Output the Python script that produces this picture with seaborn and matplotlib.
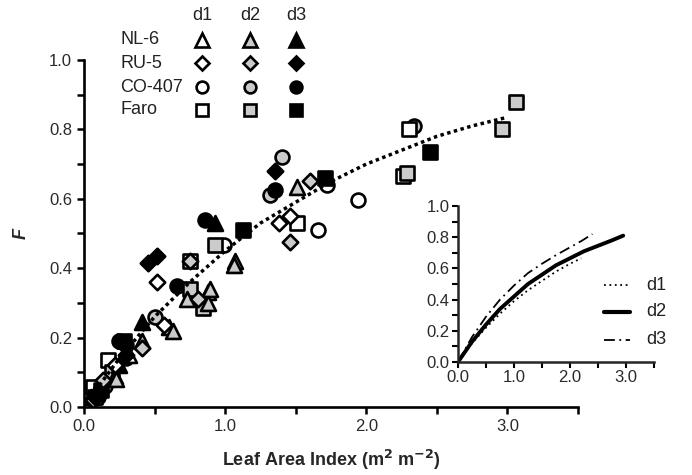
import matplotlib
matplotlib.use("Agg")
import matplotlib.pyplot as plt
import seaborn as sns
import numpy as np
import pandas as pd
from matplotlib.lines import Line2D
from matplotlib.ticker import MultipleLocator, FormatStrFormatter

sns.set_style("ticks")
plt.rcParams['font.family'] = ['Liberation Sans', 'DejaVu Sans']

# ---------------- data ----------------
genotypes = ["NL-6", "RU-5", "CO-407", "Faro"]
dates = ["d1", "d2", "d3"]

# NL-6 (triangles)
nl6_d1_x = [0.05, 0.22, 0.32, 0.60, 0.88, 1.07]
nl6_d1_y = [0.03, 0.09, 0.15, 0.23, 0.33, 0.42]
nl6_d2_x = [0.08, 0.23, 0.41, 0.63, 0.73, 0.88, 0.89, 1.06, 1.51]
nl6_d2_y = [0.04, 0.08, 0.19, 0.22, 0.31, 0.30, 0.34, 0.41, 0.635]
nl6_d3_x = [0.10, 0.25, 0.41, 0.93]
nl6_d3_y = [0.05, 0.12, 0.245, 0.53]

# RU-5 (diamonds)
ru5_d1_x = [0.05, 0.22, 0.52, 0.57, 1.38, 1.46]
ru5_d1_y = [0.02, 0.12, 0.36, 0.235, 0.53, 0.55]
ru5_d2_x = [0.065, 0.135, 0.41, 0.75, 0.81, 1.46, 1.60]
ru5_d2_y = [0.02, 0.078, 0.17, 0.42, 0.31, 0.475, 0.65]
ru5_d3_x = [0.08, 0.30, 0.45, 0.52, 1.35]
ru5_d3_y = [0.03, 0.15, 0.415, 0.435, 0.68]

# CO-407 (circles)
co_d1_x = [0.10, 0.30, 0.99, 1.66, 1.72, 1.94]
co_d1_y = [0.04, 0.14, 0.467, 0.51, 0.64, 0.597]
co_d2_x = [0.15, 0.50, 1.32, 1.40, 2.34]
co_d2_y = [0.06, 0.26, 0.61, 0.72, 0.81]
co_d3_x = [0.10, 0.25, 0.30, 0.66, 0.86, 1.35]
co_d3_y = [0.03, 0.19, 0.18, 0.35, 0.54, 0.625]

# Faro (squares)
faro_d1_x = [0.065, 0.17, 0.75, 1.51, 2.26, 2.30]
faro_d1_y = [0.058, 0.135, 0.42, 0.53, 0.665, 0.80]
faro_d2_x = [0.08, 0.20, 0.75, 0.84, 0.93, 2.29, 2.96, 3.06]
faro_d2_y = [0.03, 0.10, 0.34, 0.285, 0.467, 0.675, 0.80, 0.88]
faro_d3_x = [0.12, 0.28, 1.13, 1.71, 2.45]
faro_d3_y = [0.05, 0.19, 0.51, 0.66, 0.735]

# overall fitted curve (dotted, main panel)
fit_x = [0.05, 0.25, 0.50, 0.75, 1.00, 1.25, 1.50, 1.75, 2.00, 2.25, 2.50, 2.75, 3.00]
fit_y = [0.03, 0.14, 0.26, 0.36, 0.45, 0.53, 0.59, 0.65, 0.70, 0.74, 0.78, 0.81, 0.835]

# inset curves per date
ins_d1_x = [0.0, 0.25, 0.50, 0.75, 1.00, 1.25, 1.50, 1.75, 2.00, 2.20]
ins_d1_y = [0.0, 0.12, 0.22, 0.31, 0.39, 0.46, 0.52, 0.58, 0.63, 0.665]
ins_d2_x = [0.0, 0.25, 0.50, 0.75, 1.00, 1.25, 1.50, 1.75, 2.00, 2.25, 2.50, 2.75, 2.95]
ins_d2_y = [0.0, 0.13, 0.24, 0.34, 0.42, 0.50, 0.56, 0.62, 0.665, 0.71, 0.745, 0.78, 0.81]
ins_d3_x = [0.0, 0.25, 0.50, 0.75, 1.00, 1.25, 1.50, 1.75, 2.00, 2.20, 2.40]
ins_d3_y = [0.0, 0.16, 0.29, 0.40, 0.49, 0.57, 0.63, 0.685, 0.735, 0.775, 0.82]

series = [
    ("CO-407", "d1", co_d1_x, co_d1_y), ("CO-407", "d2", co_d2_x, co_d2_y), ("CO-407", "d3", co_d3_x, co_d3_y),
    ("Faro", "d1", faro_d1_x, faro_d1_y), ("Faro", "d2", faro_d2_x, faro_d2_y), ("Faro", "d3", faro_d3_x, faro_d3_y),
    ("NL-6", "d1", nl6_d1_x, nl6_d1_y), ("NL-6", "d2", nl6_d2_x, nl6_d2_y), ("NL-6", "d3", nl6_d3_x, nl6_d3_y),
    ("RU-5", "d1", ru5_d1_x, ru5_d1_y), ("RU-5", "d2", ru5_d2_x, ru5_d2_y), ("RU-5", "d3", ru5_d3_x, ru5_d3_y),
]

markers = {"NL-6": "^", "RU-5": "D", "CO-407": "o", "Faro": "s"}
sizes = {"NL-6": 115, "RU-5": 62, "CO-407": 100, "Faro": 100}
fills = {"d1": "white", "d2": "#cbcbcb", "d3": "black"}

# ---------------- figure ----------------
fig = plt.figure(figsize=(6.92, 4.75), dpi=100)
ax = fig.add_axes([84/692, 1-407/475, (578-84)/692, (407-60)/475])

for g, d, xs, ys in series:
    df = pd.DataFrame({"LAI": xs, "F": ys})
    sns.scatterplot(data=df, x="LAI", y="F", marker=markers[g], s=sizes[g],
                    color=fills[d], edgecolor="black", linewidth=1.9, ax=ax,
                    zorder=3, legend=False)

fit_df = pd.DataFrame({"LAI": fit_x, "F": fit_y})
sns.lineplot(data=fit_df, x="LAI", y="F", color="black", linewidth=2.5,
             linestyle=(0, (1, 1)), ax=ax, zorder=4, legend=False)

ax.set_xlim(0, 3.5)
ax.set_ylim(0, 1.0)
ax.xaxis.set_major_locator(MultipleLocator(1.0))
ax.xaxis.set_minor_locator(MultipleLocator(0.5))
ax.yaxis.set_major_locator(MultipleLocator(0.2))
ax.yaxis.set_minor_locator(MultipleLocator(0.1))
ax.xaxis.set_major_formatter(FormatStrFormatter("%.1f"))
ax.yaxis.set_major_formatter(FormatStrFormatter("%.1f"))
ax.tick_params(axis="both", which="both", direction="out", length=5, width=1.8,
               labelsize=12, color="black", labelcolor="#2a2a2a")
for s in ["top", "right"]:
    ax.spines[s].set_visible(False)
for s in ["left", "bottom"]:
    ax.spines[s].set_linewidth(1.9)
    ax.spines[s].set_color("black")
ax.set_xlabel("Leaf Area Index (m$^{\\mathbf{2}}$ m$^{\\mathbf{-2}}$)", fontsize=13,
              fontweight="bold", labelpad=10)
ax.set_ylabel("F", fontsize=13, fontweight="bold", style="italic", labelpad=14)

# ---------------- legend table (top-left) ----------------
col_x = [202/692, 250/692, 296/692]
row_y = [1-40/475, 1-63/475, 1-87/475, 1-110/475]
for cx, d in zip(col_x, dates):
    fig.text(cx, 1-15/475, d, ha="center", va="center", fontsize=13, color="#222222")
for ry, g in zip(row_y, genotypes):
    fig.text(120/692, ry, g, ha="left", va="center", fontsize=13, color="#222222")
    for cx, d in zip(col_x, dates):
        ms = {"NL-6": 9.5, "RU-5": 7, "CO-407": 8.5, "Faro": 8.5}[g]
        fig.add_artist(Line2D([cx], [ry], marker=markers[g], markersize=ms,
                              markerfacecolor=fills[d], markeredgecolor="black",
                              markeredgewidth=1.9, linestyle="none",
                              transform=fig.transFigure))

# ---------------- inset ----------------
ins = fig.add_axes([458/692, 1-362/475, (654-458)/692, (362-206)/475])
ins.patch.set_alpha(0)
sns.lineplot(x=ins_d1_x, y=ins_d1_y, color="black", linewidth=1.3,
             linestyle=(0, (1, 2)), ax=ins, legend=False)
sns.lineplot(x=ins_d2_x, y=ins_d2_y, color="black", linewidth=2.8,
             linestyle="-", ax=ins, legend=False)
sns.lineplot(x=ins_d3_x, y=ins_d3_y, color="black", linewidth=1.3,
             linestyle=(0, (6, 2.5, 1, 2.5)), ax=ins, legend=False)
ins.set_xlim(0, 3.5)
ins.set_ylim(0, 1.0)
ins.xaxis.set_major_locator(MultipleLocator(1.0))
ins.xaxis.set_minor_locator(MultipleLocator(0.5))
ins.yaxis.set_major_locator(MultipleLocator(0.2))
ins.yaxis.set_minor_locator(MultipleLocator(0.1))
ins.xaxis.set_major_formatter(FormatStrFormatter("%.1f"))
ins.yaxis.set_major_formatter(FormatStrFormatter("%.1f"))
ins.tick_params(axis="both", which="both", direction="out", length=4, width=1.5,
                labelsize=12, color="black", labelcolor="#2a2a2a", pad=2)
for s in ["top", "right"]:
    ins.spines[s].set_visible(False)
for s in ["left", "bottom"]:
    ins.spines[s].set_linewidth(1.8)
ins.set_xlabel("")
ins.set_ylabel("")

# inset legend
leg_items = [("d1", 1.3, (0, (1, 2)), 1-285/475),
             ("d2", 3.0, "-", 1-312/475),
             ("d3", 1.3, (0, (6, 2.5, 1, 2.5)), 1-340/475)]
for lab, lw, ls, yy in leg_items:
    fig.add_artist(Line2D([604/692, 630/692], [yy, yy], color="black", linewidth=lw,
                          linestyle=ls, transform=fig.transFigure))
    fig.text(646/692, yy, lab, ha="left", va="center", fontsize=13, color="#222222")

fig.savefig("out.png", dpi=100)
